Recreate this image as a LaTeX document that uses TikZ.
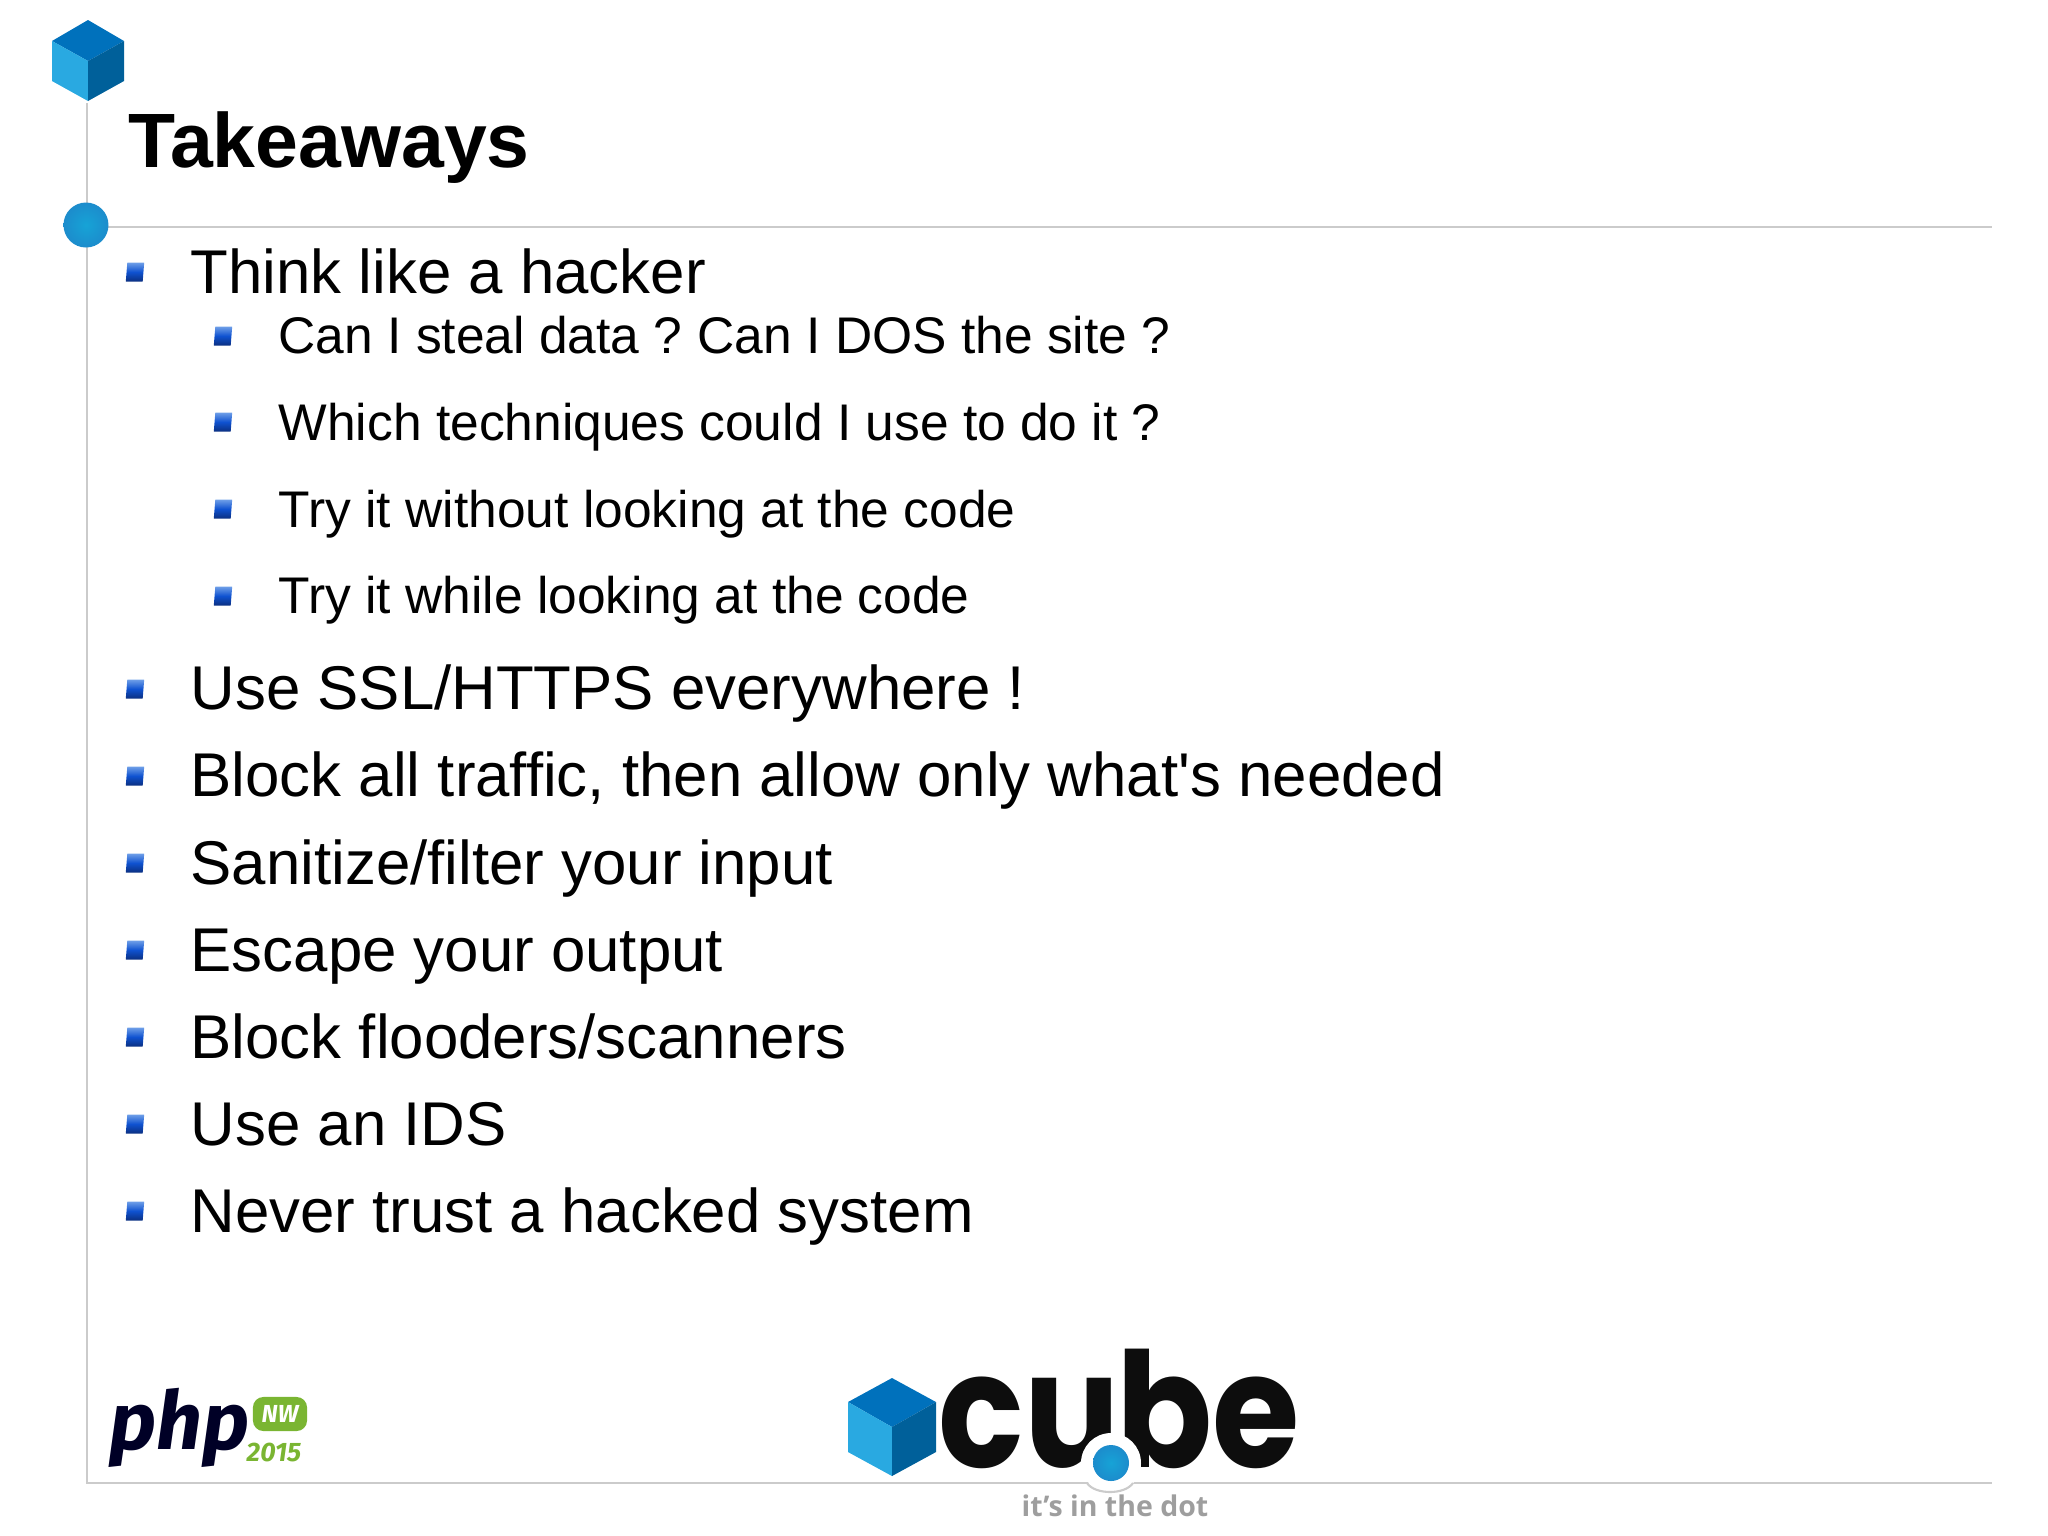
\documentclass[tikz,border=0pt]{standalone}
\usepackage{fontspec}
\newfontfamily\slidefont{Liberation Sans}
\newfontfamily\logofont{Poppins}
\newfontfamily\phpfont{Fira Sans}
\newfontfamily\dotfont{Open Sans}
\definecolor{cubetop}{HTML}{0071BC}
\definecolor{cubeleft}{HTML}{29A9E1}
\definecolor{cuberight}{HTML}{00609A}
\definecolor{dotblue}{HTML}{1C8CCC}
\definecolor{rulegray}{HTML}{CBCBCB}
\definecolor{nwgreen}{HTML}{7AB532}
\definecolor{bullettop}{HTML}{6F9FE8}
\definecolor{bulletmid}{HTML}{0F52D0}
\definecolor{bulletlow}{HTML}{0B2F80}
\tikzset{
	titletext/.style={anchor=base west,inner sep=0pt,font=\slidefont\fontsize{21.9}{26}\selectfont\bfseries},
	maintext/.style={anchor=base west,inner sep=0pt,font=\slidefont\fontsize{17.57}{21}\selectfont},
	subtext/.style={anchor=base west,inner sep=0pt,font=\slidefont\fontsize{14.65}{18}\selectfont},
	bulletbox/.style={inner sep=0pt,minimum width=4.8pt,minimum height=5.4pt,xslant=0.08,transform shape,top color=bullettop,bottom color=bulletlow,middle color=bulletmid},
	rule/.style={draw=rulegray,line width=0.6pt}
}
\begin{document}
\begin{tikzpicture}[x=0.01cm,y=-0.01cm]
	\useasboundingbox (0,0) rectangle (2048,1535);
	
	\draw[rule] (87,103) -- (87,1483) -- (1992,1483);
	\draw[rule] (87,227) -- (1992,227);
	
	% top cube
	\fill[cubetop] (88,20) -- (124,41) -- (88,61) -- (52,41) -- cycle;
	\fill[cubeleft] (52,41) -- (88,61) -- (88,101) -- (52,81) -- cycle;
	\fill[cuberight] (124,41) -- (88,61) -- (88,101) -- (124,81) -- cycle;
	\shade[inner color=dotblue!80!cyan,outer color=dotblue] (86,225) circle (22.5);
	
	\node[titletext] (title) at (128,167) {Takeaways};
	
	\node[bulletbox] (b1) at (135,272) {};
	\node[maintext] (think) at (190,293) {Think like a hacker};
	
	\node[bulletbox] (s1) at (223,336) {};
	\node[subtext] (steal) at (278,353) {Can I steal data ? \kern-1.1pt Can I DOS the site ?};
	\node[bulletbox] (s2) at (223,422) {};
	\node[subtext] (which) at (278,440) {Which techniques could I use to do it ?};
	\node[bulletbox] (s3) at (223,509) {};
	\node[subtext] (without) at (278,527) {Try it without looking at the code};
	\node[bulletbox] (s4) at (223,596) {};
	\node[subtext] (while) at (278,613) {Try it while looking at the code};
	
	\node[bulletbox] (b2) at (135,689) {};
	\node[maintext] (ssl) at (190,709) {Use SSL/HTTPS everywhere !};
	\node[bulletbox] (b3) at (135,776) {};
	\node[maintext] (block) at (190,796) {Block all traffic, then allow only what's needed};
	\node[bulletbox] (b4) at (135,863) {};
	\node[maintext] (input) at (190,884) {Sanitize/filter your input};
	\node[bulletbox] (b5) at (135,950) {};
	\node[maintext] (output) at (190,971) {Escape your output};
	\node[bulletbox] (b6) at (135,1037) {};
	\node[maintext] (flood) at (190,1058) {Block flooders/scanners};
	\node[bulletbox] (b7) at (135,1124) {};
	\node[maintext] (ids) at (190,1145) {Use an IDS};
	\node[bulletbox] (b8) at (135,1211) {};
	\node[maintext] (never) at (190,1232) {Never trust a hacked system};
	
	% php logo
	\node[anchor=base west,inner sep=0pt,text=black!85!blue,font=\phpfont\fontsize{23}{24}\selectfont\bfseries\itshape] (php) at (109,1449) {php};
	\node[fill=nwgreen,rounded corners=3pt,inner sep=0pt,minimum width=15.4pt,minimum height=9.7pt,text=white,font=\phpfont\fontsize{7}{8}\selectfont\bfseries\itshape] (nw) at (280,1414) {NW};
	\node[anchor=base west,inner sep=0pt,text=nwgreen,font=\phpfont\fontsize{7.6}{8.5}\selectfont\bfseries\itshape] (year) at (246,1461) {2015};
	
	% bottom logo
	\fill[cubetop] (892,1378) -- (936,1402) -- (892,1427) -- (848,1402) -- cycle;
	\fill[cubeleft] (848,1402) -- (892,1427) -- (892,1476) -- (848,1452) -- cycle;
	\fill[cuberight] (936,1402) -- (892,1427) -- (892,1476) -- (936,1452) -- cycle;
	\node[anchor=base west,inner sep=0pt,xscale=0.885,transform shape,text=black!95,font=\logofont\fontsize{45.5}{48}\selectfont\bfseries] (cube) at (938,1467) {cu\kern-1.2pt be};
	\fill[white] (1111,1463) circle (30);
	\fill[white] (1087,1483) rectangle (1133,1486);
	\draw[rule] (1087,1483) .. controls (1095,1495) and (1125,1495) .. (1133,1483);
	\shade[inner color=dotblue!80!cyan,outer color=dotblue] (1111,1463) circle (18);
	\node[anchor=base,inner sep=0pt,text=black!38,font=\dotfont\fontsize{8.1}{10}\selectfont\bfseries] (dot) at (1115,1516) {it’s in the dot};
\end{tikzpicture}
\end{document}
